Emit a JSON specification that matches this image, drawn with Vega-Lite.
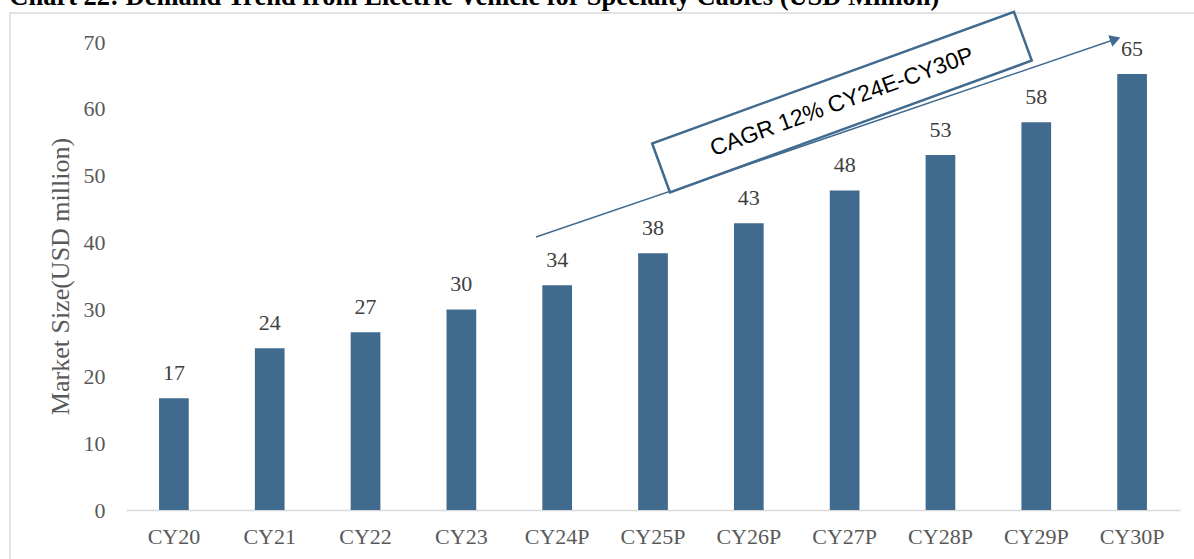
{
  "$schema": "https://vega.github.io/schema/vega-lite/v6.json",
  "width": 1054,
  "height": 468,
  "autosize": {"type": "none"},
  "padding": {"left": 126, "top": 42, "right": 14, "bottom": 49},
  "background": "white",
  "config": {"view": {"stroke": null}, "font": "Liberation Serif"},
  "title": {
    "text": "Chart 22: Demand Trend from Electric Vehicle for Specialty Cables (USD Million)",
    "anchor": "start",
    "frame": "bounds",
    "font": "Liberation Serif",
    "fontSize": 26.5,
    "fontWeight": "bold",
    "color": "#000000",
    "offset": 4,
    "dy": 8
  },
  "resolve": {"scale": {"x": "independent"}},
  "layer": [
    {
      "data": {
        "values": [
          {"year": "CY20", "value": 16.7},
          {"year": "CY21", "value": 24.2},
          {"year": "CY22", "value": 26.6},
          {"year": "CY23", "value": 30.0},
          {"year": "CY24P", "value": 33.6},
          {"year": "CY25P", "value": 38.4},
          {"year": "CY26P", "value": 42.9},
          {"year": "CY27P", "value": 47.8},
          {"year": "CY28P", "value": 53.1},
          {"year": "CY29P", "value": 58.0},
          {"year": "CY30P", "value": 65.2}
        ]
      },
      "encoding": {
        "x": {
          "field": "year",
          "type": "nominal",
          "sort": null,
          "scale": {"paddingInner": 0.69, "paddingOuter": 0.345},
          "axis": {
            "title": null,
            "labelAngle": 0,
            "domain": true,
            "domainColor": "#d9d9d9",
            "domainWidth": 1.5,
            "ticks": false,
            "grid": false,
            "labelPadding": 16,
            "labelFont": "Liberation Serif",
            "labelFontSize": 22,
            "labelColor": "#595959"
          }
        },
        "y": {
          "field": "value",
          "type": "quantitative",
          "scale": {"domain": [0, 70], "nice": false},
          "axis": {
            "values": [0, 10, 20, 30, 40, 50, 60, 70],
            "grid": false,
            "domain": false,
            "ticks": false,
            "labelPadding": 21,
            "labelFont": "Liberation Serif",
            "labelFontSize": 22,
            "labelColor": "#595959",
            "title": "Market Size(USD million)",
            "titleFont": "Liberation Serif",
            "titleFontSize": 26,
            "titleFontWeight": "normal",
            "titleColor": "#595959",
            "titlePadding": 10
          }
        }
      },
      "layer": [
        {"mark": {"type": "bar", "color": "#416a8f"}},
        {
          "mark": {"type": "text", "baseline": "middle", "align": "center", "dy": -25, "font": "Liberation Serif", "fontSize": 22, "color": "#404040"},
          "encoding": {"text": {"field": "value", "type": "quantitative", "format": ".0f"}}
        }
      ]
    },
    {
      "data": {"values": [{}]},
      "layer": [
        {
          "mark": {"type": "rect", "fillOpacity": 0, "stroke": "#d9d9d9", "strokeWidth": 1.5},
          "encoding": {
            "x": {"datum": -1.2106, "type": "quantitative", "scale": {"domain": [0, 11], "nice": false, "zero": false}, "axis": null},
            "x2": {"datum": 12},
            "y": {"datum": 74.33, "type": "quantitative", "scale": {"domain": [0, 70], "nice": false}},
            "y2": {"datum": -10}
          }
        },
        {
          "mark": {"type": "rule", "color": "#416a8f", "strokeWidth": 1.5},
          "encoding": {
            "x": {"datum": 4.279, "type": "quantitative", "scale": {"domain": [0, 11], "nice": false, "zero": false}, "axis": null},
            "x2": {"datum": 10.325},
            "y": {"datum": 40.83, "type": "quantitative", "scale": {"domain": [0, 70], "nice": false}},
            "y2": {"datum": 70.4}
          }
        },
        {
          "mark": {"type": "point", "shape": "triangle-right", "size": 150, "filled": true, "color": "#416a8f", "opacity": 1, "angle": 341},
          "encoding": {
            "x": {"datum": 10.325, "type": "quantitative", "scale": {"domain": [0, 11], "nice": false, "zero": false}, "axis": null},
            "y": {"datum": 70.4, "type": "quantitative", "scale": {"domain": [0, 70], "nice": false}}
          }
        },
        {
          "mark": {"type": "point", "shape": "M-1,-0.135L1,-0.135L1,0.135L-1,0.135Z", "size": 148225, "filled": true, "fill": "#ffffff", "fillOpacity": 1, "opacity": 1, "stroke": "#416a8f", "strokeWidth": 2.5, "strokeOpacity": 1, "angle": 340},
          "encoding": {
            "x": {"datum": 7.472, "type": "quantitative", "scale": {"domain": [0, 11], "nice": false, "zero": false}, "axis": null},
            "y": {"datum": 61.02, "type": "quantitative", "scale": {"domain": [0, 70], "nice": false}}
          }
        },
        {
          "mark": {"type": "text", "text": "CAGR 12% CY24E-CY30P", "font": "Liberation Sans", "fontSize": 23, "color": "#000000", "align": "center", "baseline": "middle", "angle": 340},
          "encoding": {
            "x": {"datum": 7.472, "type": "quantitative", "scale": {"domain": [0, 11], "nice": false, "zero": false}, "axis": null},
            "y": {"datum": 61.02, "type": "quantitative", "scale": {"domain": [0, 70], "nice": false}}
          }
        }
      ]
    }
  ]
}
